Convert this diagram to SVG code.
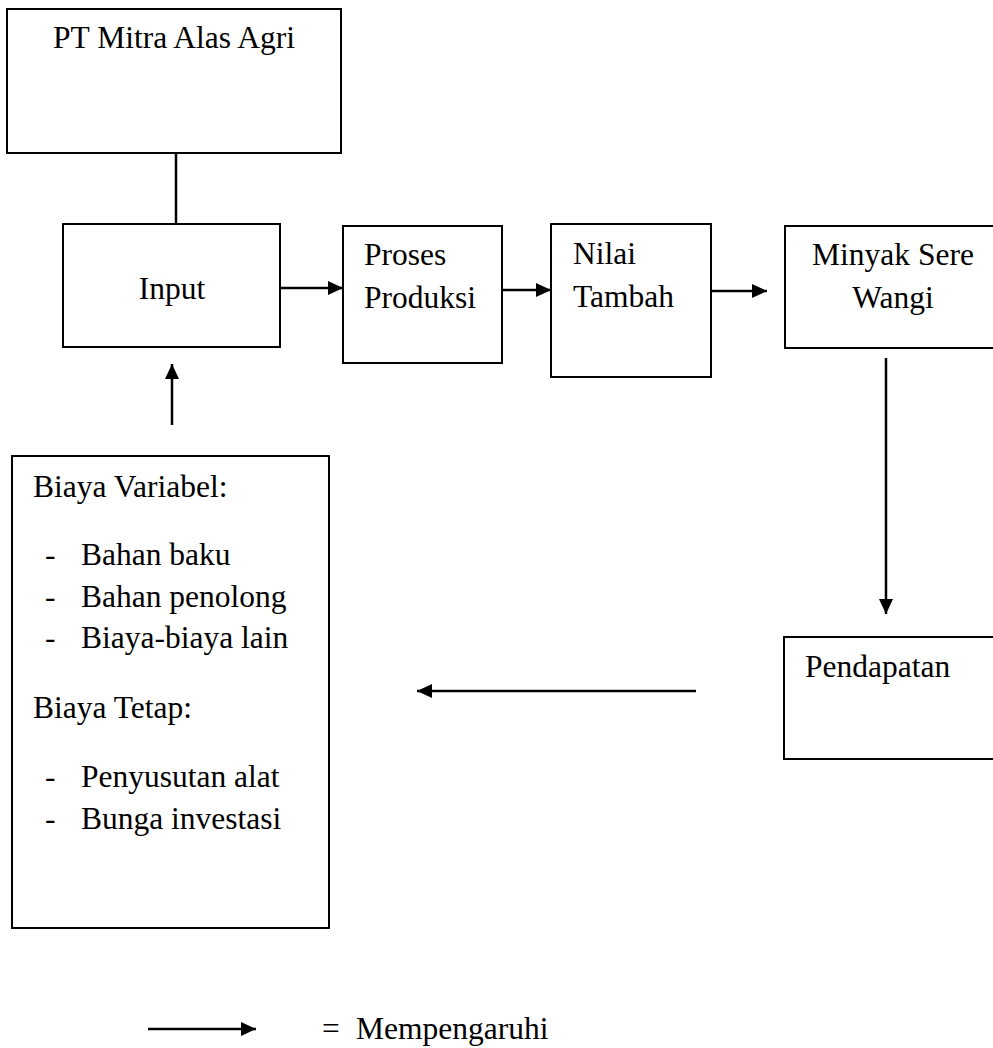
<svg xmlns="http://www.w3.org/2000/svg" width="993" height="1048" viewBox="0 0 993 1048">
<defs>
<style>
.box{fill:#fff;stroke:#000;stroke-width:2}
.ln{fill:none;stroke:#000;stroke-width:2.5}
text{font-family:'Liberation Serif','Times New Roman','DejaVu Serif',serif;font-size:31.5px;fill:#000}
</style>
<marker id="ah" markerUnits="userSpaceOnUse" markerWidth="16" markerHeight="16" viewBox="0 0 16 16" refX="15" refY="8" orient="auto">
<path d="M0,1 L15,8 L0,15 Z" fill="#000"/>
</marker>
</defs>
<rect width="993" height="1048" fill="#fff"/>
<g id="connectors">
<line class="ln" x1="176" y1="153" x2="176" y2="224" stroke-width="2"/>
<line class="ln" x1="172" y1="425" x2="172" y2="364" marker-end="url(#ah)"/>
<line class="ln" x1="280" y1="288" x2="343" y2="288" marker-end="url(#ah)"/>
<line class="ln" x1="502" y1="290" x2="551" y2="290" marker-end="url(#ah)"/>
<line class="ln" x1="711" y1="291" x2="767" y2="291" marker-end="url(#ah)"/>
<line class="ln" x1="886" y1="358" x2="886" y2="614" marker-end="url(#ah)"/>
<line class="ln" x1="696" y1="691" x2="417" y2="691" marker-end="url(#ah)"/>
</g>
<g id="pt">
<rect class="box" x="7" y="9" width="334" height="144"/>
<text font-family="Liberation Serif, serif" x="174" y="48" text-anchor="middle">PT Mitra Alas Agri</text>
</g>
<g id="input">
<rect class="box" x="63" y="224" width="217" height="123"/>
<text font-family="Liberation Serif, serif" x="172" y="299" text-anchor="middle">Input</text>
</g>
<g id="proses">
<rect class="box" x="343" y="226" width="159" height="137"/>
<text font-family="Liberation Serif, serif" x="364" y="265">Proses</text>
<text font-family="Liberation Serif, serif" x="364" y="308">Produksi</text>
</g>
<g id="nilai">
<rect class="box" x="551" y="224" width="160" height="153"/>
<text font-family="Liberation Serif, serif" x="573" y="264">Nilai</text>
<text font-family="Liberation Serif, serif" x="573" y="307">Tambah</text>
</g>
<g id="minyak">
<rect class="box" x="785" y="226" width="220" height="122"/>
<text font-family="Liberation Serif, serif" x="893" y="265" text-anchor="middle">Minyak Sere</text>
<text font-family="Liberation Serif, serif" x="893" y="308" text-anchor="middle">Wangi</text>
</g>
<g id="pendapatan">
<rect class="box" x="784" y="637" width="220" height="122"/>
<text font-family="Liberation Serif, serif" x="805" y="677">Pendapatan</text>
</g>
<g id="biaya" font-family="Liberation Serif, serif">
<rect class="box" x="12" y="456" width="317" height="472"/>
<text x="33" y="497">Biaya Variabel:</text>
<text x="45" y="565">-</text><text x="81" y="565">Bahan baku</text>
<text x="45" y="607">-</text><text x="81" y="607">Bahan penolong</text>
<text x="45" y="648">-</text><text x="81" y="648">Biaya-biaya lain</text>
<text x="33" y="718">Biaya Tetap:</text>
<text x="45" y="787">-</text><text x="81" y="787">Penyusutan alat</text>
<text x="45" y="829">-</text><text x="81" y="829">Bunga investasi</text>
</g>
<g id="legend">
<line class="ln" x1="148" y1="1029" x2="256" y2="1029" marker-end="url(#ah)"/>
<text x="322" y="1039">=</text>
<text x="356" y="1039">Mempengaruhi</text>
</g>
</svg>
